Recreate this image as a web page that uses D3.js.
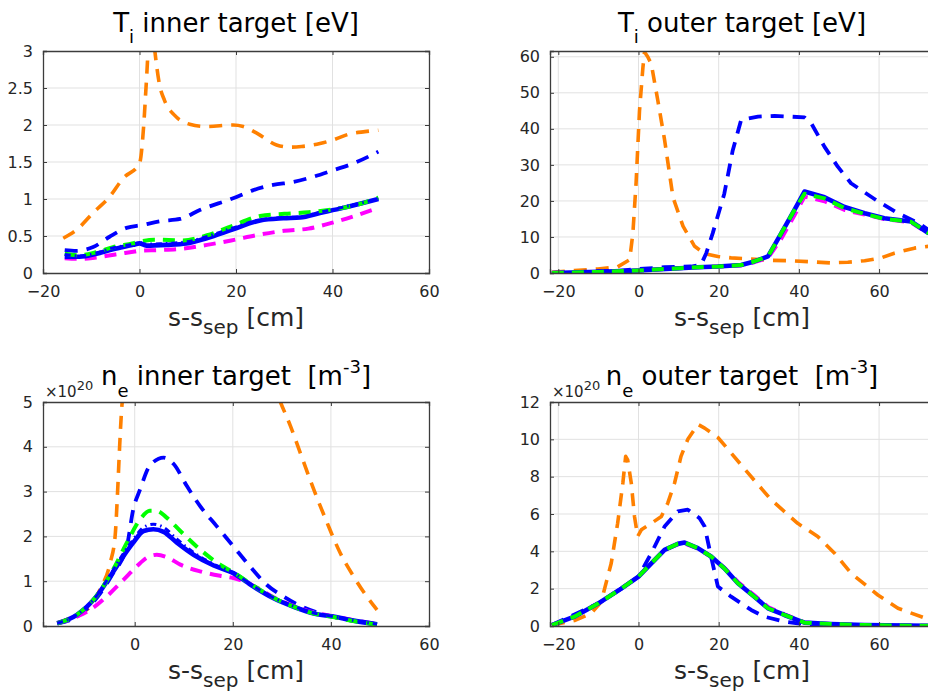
<!DOCTYPE html>
<html>
<head>
<meta charset="utf-8">
<script src="https://cdn.jsdelivr.net/npm/d3@7"></script>
<style>
  html, body { margin: 0; padding: 0; background: #fff; }
  svg { display: block; font-family: "DejaVu Sans", sans-serif; }
</style>
</head>
<body>
<svg id="chart" width="928" height="694"></svg>
<script>
// ---------------- DATA ----------------
// Tick values
const tiInnerYTicks = [0, 0.5, 1, 1.5, 2, 2.5, 3];
const tiOuterYTicks = [0, 10, 20, 30, 40, 50, 60];
const neInnerYTicks = [0, 1, 2, 3, 4, 5];
const neOuterYTicks = [0, 2, 4, 6, 8, 10, 12];
const innerXTicks = [-20, 0, 20, 40, 60];
const outerXTicks = [-20, 0, 20, 40, 60, 80];

// Ti inner target [eV]
const tiInnerOrange = [[-15.8,0.47],[-13.1,0.58],[-9.5,0.82],[-6.2,1.03],[-3.4,1.28],[0,1.48],[0.9,2.02],[1.4,2.56],[2.2,3.3],[2.7,3.3],[3.2,2.99],[4.1,2.56],[5.2,2.33],[7.3,2.13],[10.4,2.01],[13.9,1.98],[19.4,2.0],[21.5,1.98],[24.3,1.89],[28.4,1.73],[31.2,1.70],[33.6,1.71],[37.4,1.75],[40.2,1.80],[43.6,1.88],[46.7,1.91],[49.5,1.93]];
const tiInnerBlueHigh = [[-15.5,0.31],[-13.1,0.30],[-9.6,0.35],[-6.2,0.49],[-2.7,0.61],[0.7,0.65],[4.2,0.70],[8.4,0.73],[12.5,0.85],[19.4,1.01],[23.6,1.12],[27.7,1.19],[31.9,1.23],[36,1.30],[40.2,1.39],[44.3,1.48],[49.5,1.64]];
const tiInnerMagenta = [[-15.5,0.20],[-12,0.19],[-9,0.21],[-5,0.25],[-1,0.29],[0,0.30],[4,0.31],[9,0.33],[14,0.38],[19,0.44],[25,0.52],[30,0.57],[35,0.60],[40,0.68],[45,0.78],[49.5,0.88]];
const tiInnerBlueSolid = [[-15.5,0.22],[-12.4,0.22],[-8.9,0.26],[-5.5,0.32],[-1.3,0.38],[0,0.40],[1.4,0.37],[5.6,0.38],[9.7,0.40],[13.9,0.47],[19.4,0.59],[25,0.71],[29.8,0.74],[33.3,0.75],[37.4,0.81],[42.2,0.88],[49.5,1.0]];
const tiInnerGreen = [[-15.5,0.26],[-12.4,0.24],[-9,0.28],[-5.5,0.35],[-1.5,0.40],[0.5,0.43],[3,0.45],[9,0.44],[14,0.51],[19,0.63],[25,0.77],[30,0.80],[35,0.82],[40,0.86],[45,0.92],[49.5,1.02]];
const tiInnerBlueDash = [[-15.5,0.25],[-12.4,0.23],[-8.9,0.27],[-5.5,0.34],[-1.3,0.39],[0,0.41],[1.4,0.39],[5.6,0.40],[9.7,0.42],[13.9,0.49],[19.4,0.61],[25,0.72],[29.8,0.75],[33.3,0.76],[37.4,0.82],[42.2,0.89],[49.5,1.0]];

// Ti outer target [eV]
const tiOuterOrange = [[-21.6,0.2],[-16,0.7],[-10.1,1.1],[-5.2,1.7],[-2.2,3.7],[-1.4,11],[-0.6,25],[0.25,45],[1.1,57],[1.5,61.3],[2.3,60],[3.2,58],[4.8,48],[6.5,37],[8.6,21],[11.1,13],[14,7.4],[16.5,5.4],[19.8,4.6],[23.1,4.2],[28.1,3.9],[33.1,3.5],[38.1,3.4],[43.1,3.1],[48,2.8],[52.2,3.0],[56.4,3.4],[60.5,4.2],[63.8,5.5],[68.8,6.9],[72.3,7.4],[76,7.8]];
const tiOuterBlueHigh = [[-21.6,0],[-16,0.2],[-10.1,0.5],[-5.2,0.6],[0,1.1],[6.5,1.6],[13.1,1.8],[15.6,2.3],[16.9,5.5],[18.5,11],[21.4,22],[23.5,34],[25.6,42.5],[29.8,43.4],[33.9,43.6],[41.4,43.2],[43.1,41.5],[46.4,35],[49.7,29.5],[53,24.9],[59.7,19.9],[64.7,16.6],[69.7,13.9],[72.3,12],[76,9.5]];
const tiOuterMagenta = [[-21.6,0],[-10,0.3],[0,0.7],[14.8,1.6],[19.8,1.8],[25.6,2.1],[28.9,3.0],[32.3,4.2],[35.6,9.5],[38.9,16],[41.4,21.2],[46.4,19.9],[51.4,17.5],[56.4,16.2],[61.3,15.0],[68,14.0],[72.3,11.0],[76,9.0]];
const tiOuterBlueSolid = [[-21.6,0],[-10,0.3],[0,0.7],[14.8,1.6],[19.8,1.8],[25.6,2.2],[28.9,3.2],[32.3,4.6],[35.6,11],[38.9,17.5],[41.4,22.6],[46.4,21],[51.4,18.3],[56.4,16.6],[61.3,15.2],[68,14.3],[72.3,11.1],[76,9.2]];
const tiOuterGreen = [[-21.6,0],[-10,0.3],[0,0.7],[14.8,1.6],[19.8,1.8],[25.6,2.2],[28.9,3.2],[32.3,4.6],[35.6,11],[38.9,17.5],[41.4,22.0],[46.4,20.7],[51.4,18.0],[56.4,16.4],[61.3,15.0],[68,14.2],[72.3,11.1],[76,9.2]];

// ne inner target [1e20 m^-3]
const neInnerOrange = [[-15.8,0.07],[-11.8,0.25],[-9.1,0.43],[-7.1,0.81],[-5,1.41],[-4,2.0],[-3.5,2.98],[-3.1,3.95],[-2.7,4.78],[-2.3,5.3],[-1,6.8],[5,8.5],[15,8.6],[22,7.2],[27,5.8],[29.7,5.0],[31.7,4.48],[33.7,3.88],[36.5,3.05],[39.2,2.31],[41.9,1.63],[44.6,1.11],[47.3,0.66],[49.4,0.36]];
const neInnerBlueHigh = [[-15.8,0.06],[-11.8,0.21],[-7.8,0.62],[-4.4,1.18],[-1.6,1.78],[-0.3,2.6],[1.1,3.05],[3.1,3.58],[5.9,3.76],[7.9,3.62],[10.6,3.13],[13.3,2.68],[16.7,2.23],[20.1,1.78],[23.5,1.33],[26.9,0.92],[30.3,0.66],[33.7,0.45],[37.8,0.28],[41.9,0.17],[49.4,0.04]];
const neInnerMagenta = [[-15.8,0.06],[-11.8,0.21],[-9.1,0.36],[-5.7,0.66],[-2.3,1.03],[0.4,1.33],[2.4,1.52],[4.5,1.59],[6.5,1.54],[9.3,1.37],[13.3,1.22],[17.4,1.12],[20.1,1.07],[24.2,0.9],[28.3,0.64],[32.4,0.45],[36.5,0.30],[40.5,0.22],[44.6,0.13],[49.4,0.04]];
const neInnerBlueSolid = [[-15.8,0.06],[-11.8,0.25],[-7.8,0.66],[-5,1.11],[-2.3,1.56],[-0.3,1.86],[1.8,2.12],[3.8,2.16],[5.9,2.1],[8.6,1.86],[12,1.59],[16.1,1.35],[20.1,1.18],[24.2,0.88],[28.3,0.62],[32.4,0.43],[36.5,0.28],[40.5,0.21],[44.6,0.12],[49.4,0.04]];
const neInnerGreen = [[-15.8,0.06],[-11.8,0.25],[-7.8,0.67],[-4.4,1.26],[-1.6,1.86],[1.1,2.38],[3.1,2.57],[4.5,2.57],[6.5,2.42],[9.3,2.12],[13.3,1.71],[17.4,1.37],[20.1,1.2],[24.2,0.9],[28.3,0.63],[32.4,0.43],[36.5,0.28],[40.5,0.2],[44.6,0.11],[49.4,0.03]];
const neInnerBlueDash = [[-15.8,0.06],[-11.8,0.25],[-7.8,0.67],[-5,1.14],[-2.3,1.62],[-0.3,1.93],[1.8,2.2],[3.8,2.27],[5.9,2.2],[8.6,1.94],[12,1.64],[16.1,1.38],[20.1,1.19],[24.2,0.89],[28.3,0.63],[32.4,0.44],[36.5,0.29],[40.5,0.21],[44.6,0.12],[49.4,0.04]];

// ne outer target [1e20 m^-3]
const neOuterOrange = [[-21.6,0.05],[-16,0.29],[-11.8,0.68],[-9.3,1.3],[-6.8,3.36],[-5.2,5.5],[-3.9,7.66],[-3.2,9.09],[-2.7,8.9],[-1.8,7.66],[-1,5.87],[-0.2,4.8],[0.7,5.15],[3.2,5.5],[5.7,5.87],[7.3,6.58],[9,7.66],[10.6,9.09],[12.3,10],[14.8,10.8],[16.5,10.6],[19.8,10.1],[23.1,9.27],[27.3,8.2],[33.1,6.76],[39.7,5.5],[44.7,4.8],[48.9,3.9],[53,2.83],[59.7,1.66],[64.7,0.95],[72.3,0.36],[76,0.2]];
const neOuterBlueHigh = [[-21.6,0.05],[-10.1,1.2],[-4.3,2.0],[0,2.65],[3.2,3.9],[6.5,5.33],[9.8,6.14],[12.3,6.23],[15.2,5.78],[16.5,5.33],[18.1,3.72],[19.8,2.11],[23.1,1.57],[28.1,0.86],[31.4,0.5],[36.4,0.23],[39.7,0.14],[43.9,0.05],[76,0.0]];
const neOuterMagenta = [[-21.6,0.05],[-16,0.5],[-10.1,1.2],[-4.3,2.0],[0,2.65],[3.2,3.36],[6.5,4.08],[9.8,4.37],[11.5,4.42],[14.8,4.15],[18.1,3.72],[21.4,3.12],[24.8,2.36],[28.9,1.65],[32.3,1.02],[36.4,0.63],[39.7,0.34],[41.4,0.19],[48,0.11],[56.4,0.05],[76,0.0]];
const neOuterBlueSolid = [[-21.6,0.05],[-16,0.5],[-10.1,1.2],[-4.3,2.0],[0,2.65],[3.2,3.36],[6.5,4.08],[9.8,4.4],[11.5,4.47],[14.8,4.17],[18.1,3.72],[21.4,3.09],[24.8,2.29],[28.9,1.57],[32.3,0.95],[36.4,0.59],[39.7,0.32],[41.4,0.18],[48,0.11],[56.4,0.05],[76,0.0]];
const neOuterGreen = [[-21.6,0.05],[-16,0.5],[-10.1,1.2],[-4.3,2.0],[0,2.65],[3.2,3.36],[6.5,4.08],[9.8,4.4],[11.5,4.47],[14.8,4.17],[18.1,3.72],[21.4,3.09],[24.8,2.29],[28.9,1.57],[32.3,0.95],[36.4,0.59],[39.7,0.32],[41.4,0.18],[48,0.11],[56.4,0.05],[76,0.0]];

// ---------------- STYLES ----------------
const ORANGE = "#ff8000", BLUE = "#0000ff", GREEN = "#00ff00", MAGENTA = "#ff00ff";
const styleOrange = {color: ORANGE, width: 3.6, dash: "13 9"};
const styleBlueHigh = {color: BLUE, width: 3.8, dash: "13 9"};
const styleMagenta = {color: MAGENTA, width: 4, dash: "12 8"};
const styleBlueSolid = {color: BLUE, width: 4.6, dash: null};
const styleGreen = {color: GREEN, width: 4, dash: "12 8"};
const styleBlueDash = {color: BLUE, width: 3, dash: "6 4 1.5 4"};

const svg = d3.select("#chart");
const TICK_FONT = 16, LABEL_FONT = 25, TITLE_FONT = 26, SUB_FONT = 18;
const TXT = "#262626";

let clipId = 0;
function drawPanel(cfg) {
  const x = d3.scaleLinear().domain(cfg.xDomain).range([cfg.left, cfg.right]);
  const y = d3.scaleLinear().domain(cfg.yDomain).range([cfg.bottom, cfg.top]);
  const g = svg.append("g");
  const id = "clip" + (clipId++);
  svg.append("clipPath").attr("id", id).append("rect")
    .attr("x", cfg.left).attr("y", cfg.top)
    .attr("width", cfg.right - cfg.left).attr("height", cfg.bottom - cfg.top);

  // grid
  const grid = g.append("g");
  grid.selectAll("line.gx").data(cfg.xTicks.filter(t => t > cfg.xDomain[0] && t < cfg.xDomain[1]))
    .join("line").attr("x1", d => x(d)).attr("x2", d => x(d))
    .attr("y1", cfg.top).attr("y2", cfg.bottom)
    .attr("stroke", "#e1e1e1").attr("stroke-width", 1);
  grid.selectAll("line.gy").data(cfg.yTicks.filter(t => t > cfg.yDomain[0] && t < cfg.yDomain[1]))
    .join("line").attr("y1", d => y(d)).attr("y2", d => y(d))
    .attr("x1", cfg.left).attr("x2", cfg.right)
    .attr("stroke", "#e1e1e1").attr("stroke-width", 1);

  // lines
  const lineGen = d3.line().x(d => x(d[0])).y(d => y(d[1])).curve(cfg.curve);
  const lg = g.append("g").attr("clip-path", `url(#${id})`);
  cfg.series.forEach(s => {
    const p = lg.append("path").datum(s.data)
      .attr("d", lineGen).attr("fill", "none")
      .attr("stroke", s.style.color).attr("stroke-width", s.style.width)
      .attr("stroke-linejoin", "round");
    if (s.style.dash) p.attr("stroke-dasharray", s.style.dash);
  });

  // axes (MATLAB style: ticks inward, box)
  const tickLen = 4;
  const xAxisB = d3.axisBottom(x).tickValues(cfg.xTicks.filter(t => t >= cfg.xDomain[0] - 1e-9 && t <= cfg.xDomain[1] + 1e-9))
    .tickSize(-tickLen).tickPadding(13).tickFormat(d3.format("d"));
  const xAxisT = d3.axisTop(x).tickValues(cfg.xTicks.filter(t => t >= cfg.xDomain[0] && t <= cfg.xDomain[1]))
    .tickSize(-tickLen).tickFormat("");
  const yAxisL = d3.axisLeft(y).tickValues(cfg.yTicks).tickSize(-tickLen).tickPadding(10)
    .tickFormat(d => String(d));
  const yAxisR = d3.axisRight(y).tickValues(cfg.yTicks).tickSize(-tickLen).tickFormat("");

  const axG = g.append("g");
  const ab = axG.append("g").attr("transform", `translate(0,${cfg.bottom})`).call(xAxisB);
  const at = axG.append("g").attr("transform", `translate(0,${cfg.top})`).call(xAxisT);
  const al = axG.append("g").attr("transform", `translate(${cfg.left},0)`).call(yAxisL);
  const ar = axG.append("g").attr("transform", `translate(${cfg.right},0)`).call(yAxisR);
  [ab, at, al, ar].forEach(a => {
    a.select(".domain").attr("stroke", "#3c3c3c").attr("stroke-width", 1.3);
    a.selectAll(".tick line").attr("stroke", "#3c3c3c").attr("stroke-width", 1);
    a.selectAll("text").attr("fill", TXT).attr("font-size", TICK_FONT)
      .attr("font-family", "DejaVu Sans");
  });
  ab.selectAll("text").attr("dy", "0.71em");

  // x label
  const cx = (cfg.left + Math.min(cfg.right, 934)) / 2;
  const xl = svg.append("text").attr("x", cx).attr("y", cfg.bottom + 53)
    .attr("text-anchor", "middle").attr("fill", TXT).attr("font-size", LABEL_FONT);
  xl.append("tspan").text("s-s");
  xl.append("tspan").attr("font-size", 20).attr("dy", 8).text("sep");
  xl.append("tspan").attr("dy", -8).text(" [cm]");

  // title
  const tt = svg.append("text").attr("x", cx).attr("y", cfg.titleY)
    .attr("text-anchor", "middle").attr("fill", "#000").attr("font-size", TITLE_FONT);
  cfg.title.forEach(part => {
    const ts = tt.append("tspan").text(part.t);
    if (part.size) ts.attr("font-size", part.size);
    if (part.dy) ts.attr("dy", part.dy);
  });

  if (cfg.exponent) {
    const ex = svg.append("text").attr("x", cfg.left + 2).attr("y", cfg.top - 5)
      .attr("fill", TXT).attr("font-size", 15);
    ex.append("tspan").text("\u00d710");
    ex.append("tspan").attr("font-size", 13).attr("dy", -7).text(cfg.exponent);
  }
}

const innerCurve = d3.curveMonotoneX;
const outerCurve = d3.curveLinear;

drawPanel({
  left: 43, right: 429, top: 51, bottom: 273,
  xDomain: [-20, 60], yDomain: [0, 3],
  xTicks: innerXTicks, yTicks: tiInnerYTicks, curve: innerCurve,
  titleY: 32,
  title: [{t: "T"}, {t: "i", size: SUB_FONT, dy: 11}, {t: " inner target [eV]", dy: -11}],
  series: [
    {data: tiInnerOrange, style: styleOrange},
    {data: tiInnerBlueHigh, style: styleBlueHigh},
    {data: tiInnerMagenta, style: styleMagenta},
    {data: tiInnerBlueSolid, style: styleBlueSolid},
    {data: tiInnerGreen, style: styleGreen},
    {data: tiInnerBlueDash, style: styleBlueDash}
  ]
});

drawPanel({
  left: 550, right: 934, top: 51, bottom: 273,
  xDomain: [-22.07, 73.7], yDomain: [0, 61.6],
  xTicks: outerXTicks, yTicks: tiOuterYTicks, curve: outerCurve,
  titleY: 32,
  title: [{t: "T"}, {t: "i", size: SUB_FONT, dy: 11}, {t: " outer target [eV]", dy: -11}],
  series: [
    {data: tiOuterOrange, style: styleOrange},
    {data: tiOuterBlueHigh, style: styleBlueHigh},
    {data: tiOuterMagenta, style: styleMagenta},
    {data: tiOuterBlueSolid, style: styleBlueSolid},
    {data: tiOuterGreen, style: styleGreen}
  ]
});

drawPanel({
  left: 43, right: 429, top: 402, bottom: 626,
  xDomain: [-18.7, 60], yDomain: [0, 5],
  xTicks: innerXTicks, yTicks: neInnerYTicks, curve: innerCurve,
  titleY: 385, exponent: "20",
  title: [{t: "n"}, {t: "e", size: SUB_FONT, dy: 12}, {t: " inner target\u00a0 [m", dy: -12}, {t: "-3", size: SUB_FONT, dy: -12}, {t: "]", dy: 12}],
  series: [
    {data: neInnerOrange, style: styleOrange},
    {data: neInnerBlueHigh, style: styleBlueHigh},
    {data: neInnerMagenta, style: styleMagenta},
    {data: neInnerBlueSolid, style: styleBlueSolid},
    {data: neInnerGreen, style: styleGreen},
    {data: neInnerBlueDash, style: styleBlueDash}
  ]
});

drawPanel({
  left: 550, right: 934, top: 402, bottom: 626,
  xDomain: [-22.07, 73.7], yDomain: [0, 12],
  xTicks: outerXTicks, yTicks: neOuterYTicks, curve: outerCurve,
  titleY: 385, exponent: "20",
  title: [{t: "n"}, {t: "e", size: SUB_FONT, dy: 12}, {t: " outer target\u00a0 [m", dy: -12}, {t: "-3", size: SUB_FONT, dy: -12}, {t: "]", dy: 12}],
  series: [
    {data: neOuterOrange, style: styleOrange},
    {data: neOuterBlueHigh, style: styleBlueHigh},
    {data: neOuterMagenta, style: styleMagenta},
    {data: neOuterBlueSolid, style: styleBlueSolid},
    {data: neOuterGreen, style: styleGreen}
  ]
});
</script>
</body>
</html>
